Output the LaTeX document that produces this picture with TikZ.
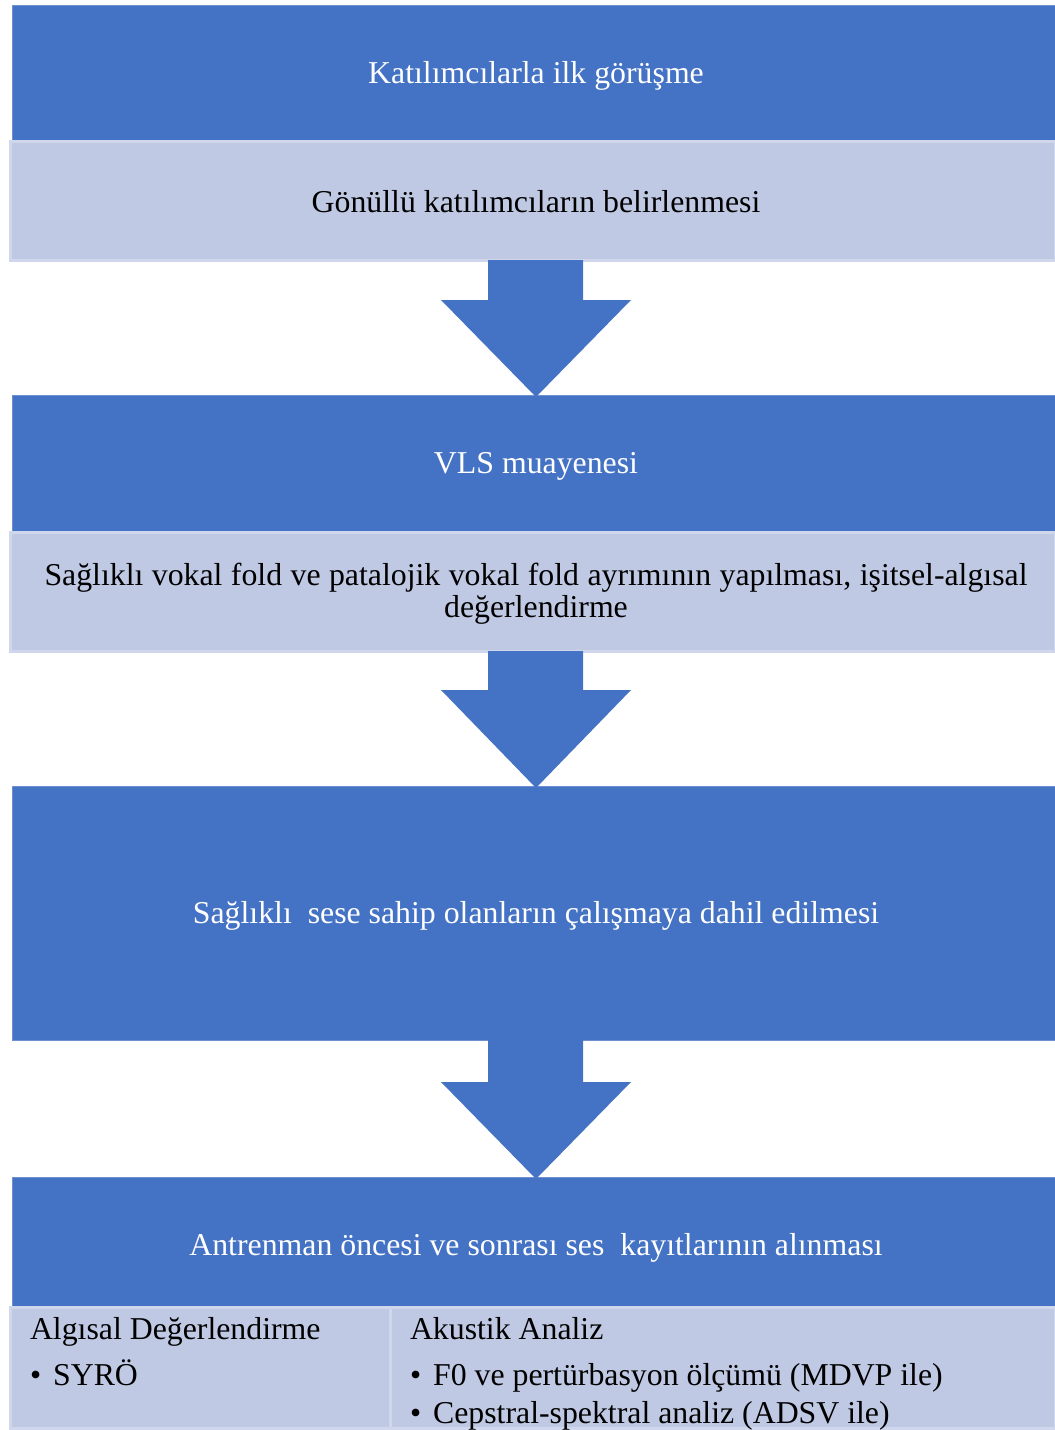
\documentclass[tikz,border=0pt]{standalone}
\usepackage{fontspec}
\setmainfont{Liberation Serif}
\usetikzlibrary{calc}
\definecolor{dblue}{HTML}{4472C4}
\definecolor{dbord}{HTML}{6F8FD0}
\definecolor{lblue}{HTML}{C0C9E4}
\definecolor{lbord}{HTML}{D0D6EB}
\begin{document}
\begin{tikzpicture}[x=0.5pt,y=-0.5pt,
  every node/.style={inner sep=0pt,outer sep=0pt,font=\fontsize{15.9pt}{18pt}\selectfont},
  darkbox/.style={draw=dbord,line width=0.5pt,fill=dblue,text=white,anchor=north west},
  lightbox/.style={draw=lbord,line width=1.5pt,fill=lblue,text=black,anchor=north west},
  blockarrow/.style={fill=dblue,draw=none}]
\useasboundingbox (0,0) rectangle (1055,1430);
% boxes
\node[darkbox,minimum width=1043*0.5pt,minimum height=135*0.5pt] (b1) at (12,5) {};
\node[lightbox,minimum width=1045*0.5pt,minimum height=119*0.5pt] (b2) at (10,141) {};
\node[darkbox,minimum width=1043*0.5pt,minimum height=136*0.5pt] (b3) at (12,395) {};
\node[lightbox,minimum width=1045*0.5pt,minimum height=119*0.5pt] (b4) at (10,532) {};
\node[darkbox,minimum width=1043*0.5pt,minimum height=254*0.5pt] (b5) at (12,786) {};
\node[darkbox,minimum width=1043*0.5pt,minimum height=130*0.5pt] (b6) at (12,1177) {};
\node[lightbox,minimum width=380*0.5pt,minimum height=121*0.5pt] (b7a) at (10,1307) {};
\node[lightbox,minimum width=665*0.5pt,minimum height=121*0.5pt] (b7b) at (390,1307) {};
% texts
\node[text=white] (t1) at (536,76) {Katılımcılarla ilk görüşme};
\node (t2) at (536,202) {Gönüllü katılımcıların belirlenmesi};
\node[text=white] (t3) at (536,466) {VLS muayenesi};
\node (t4a) at (536,578) {\makebox[491.5pt][s]{Sağlıklı vokal fold ve patalojik vokal fold ayrımının yapılması, işitsel-algısal}};
\node (t4b) at (536,610) {değerlendirme};
\node[text=white] (t5) at (536,916) {Sağlıklı\ \ sese sahip olanların çalışmaya dahil edilmesi};
\node[text=white] (t6) at (536,1248) {Antrenman öncesi ve sonrası ses\ \ kayıtlarının alınması};
\node[anchor=west] (t7a) at (30,1332) {Algısal Değerlendirme};
\node[anchor=west] (t7b) at (30,1373) {•\hspace{6pt}SYRÖ};
\node[anchor=west] (t7c) at (410,1329) {Akustik Analiz};
\node[anchor=west] (t7d) at (410,1378) {•\hspace{6pt}F0 ve pertürbasyon ölçümü (MDVP ile)};
\node[anchor=west] (t7e) at (410,1416) {•\hspace{6pt}Cepstral-spektral analiz (ADSV ile)};
% block arrows
\foreach \a/\b/\s in {b2/b3/40,b4/b5/39,b5/b6/42}{
  \coordinate (top) at (t1.center |- \a.south);
  \coordinate (tip) at (t1.center |- \b.north);
  \fill[blockarrow] ($(top)+(-48,0)$) -- ($(top)+(47,0)$) -- ($(top)+(47,\s)$) -- ($(top)+(95,\s)$)
    -- ($(tip)+(0,2)$) -- ($(top)+(-95,\s)$) -- ($(top)+(-48,\s)$) -- cycle;
}
\end{tikzpicture}
\end{document}
